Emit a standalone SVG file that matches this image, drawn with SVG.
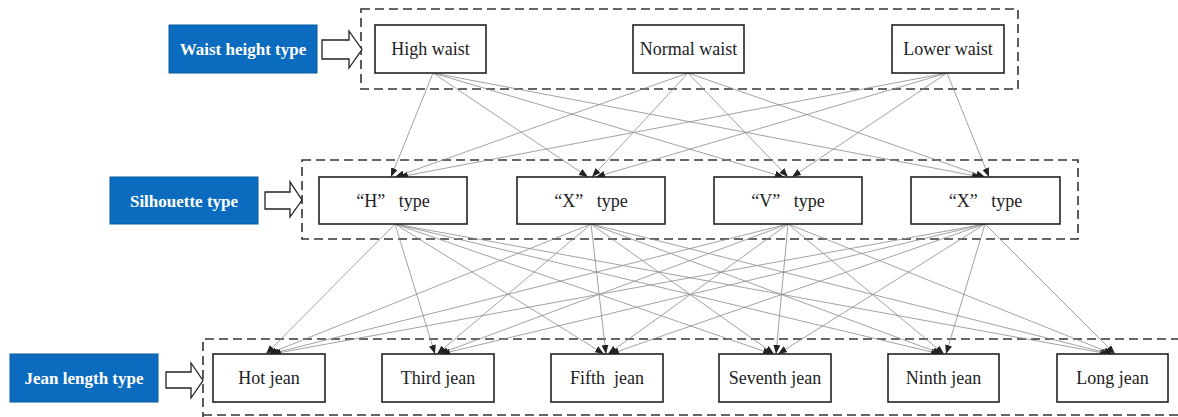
<svg xmlns="http://www.w3.org/2000/svg" width="1178" height="417" viewBox="0 0 1178 417">
<style>
.bg{fill:#fff}
.cat{fill:#0B6BBF;stroke:#0A5A9E;stroke-width:1}
.catt{font-family:'Liberation Serif','Times New Roman','DejaVu Serif',serif;font-weight:bold;font-size:17px;fill:#fff;text-anchor:middle}
.node{fill:#fff;stroke:#222;stroke-width:1.6}
.nt{font-family:'Liberation Serif','Times New Roman','DejaVu Serif',serif;font-size:18px;fill:#222;text-anchor:middle}
.dash{fill:none;stroke:#333;stroke-width:1.6;stroke-dasharray:9 5}
.harrow{fill:#fff;stroke:#222;stroke-width:1.3}
.edge{stroke:#8a8a8a;stroke-width:0.8;fill:none;marker-end:url(#ah)}
</style>
<defs>
<marker id="ah" markerUnits="userSpaceOnUse" markerWidth="9" markerHeight="7" refX="9" refY="3.5" orient="auto">
<path d="M0,0 L9,3.5 L0,7 z" fill="#222"/>
</marker>
</defs>
<rect class="bg" x="0" y="0" width="1178" height="417"/>

<g id="groups">
<rect class="dash" x="361" y="9" width="657" height="80"/>
<rect class="dash" x="302" y="160" width="776" height="79"/>
<path class="dash" d="M1180,339 H203 V417"/>
<path class="dash" d="M203,415 H1180"/>
</g>

<g id="connectors">
<line class="edge" x1="433" y1="73" x2="391" y2="177"/>
<line class="edge" x1="433" y1="73" x2="588" y2="177"/>
<line class="edge" x1="433" y1="73" x2="784" y2="177"/>
<line class="edge" x1="433" y1="73" x2="981" y2="177"/>
<line class="edge" x1="688" y1="73" x2="395" y2="177"/>
<line class="edge" x1="688" y1="73" x2="592" y2="177"/>
<line class="edge" x1="688" y1="73" x2="788" y2="177"/>
<line class="edge" x1="688" y1="73" x2="985" y2="177"/>
<line class="edge" x1="947" y1="73" x2="399" y2="177"/>
<line class="edge" x1="947" y1="73" x2="596" y2="177"/>
<line class="edge" x1="947" y1="73" x2="792" y2="177"/>
<line class="edge" x1="947" y1="73" x2="989" y2="177"/>
<line class="edge" x1="395" y1="224" x2="266" y2="354"/>
<line class="edge" x1="395" y1="224" x2="435" y2="354"/>
<line class="edge" x1="395" y1="224" x2="604" y2="354"/>
<line class="edge" x1="395" y1="224" x2="772" y2="354"/>
<line class="edge" x1="395" y1="224" x2="940" y2="354"/>
<line class="edge" x1="395" y1="224" x2="1109" y2="354"/>
<line class="edge" x1="591" y1="224" x2="268" y2="354"/>
<line class="edge" x1="591" y1="224" x2="437" y2="354"/>
<line class="edge" x1="591" y1="224" x2="606" y2="354"/>
<line class="edge" x1="591" y1="224" x2="774" y2="354"/>
<line class="edge" x1="591" y1="224" x2="942" y2="354"/>
<line class="edge" x1="591" y1="224" x2="1111" y2="354"/>
<line class="edge" x1="788" y1="224" x2="270" y2="354"/>
<line class="edge" x1="788" y1="224" x2="439" y2="354"/>
<line class="edge" x1="788" y1="224" x2="608" y2="354"/>
<line class="edge" x1="788" y1="224" x2="776" y2="354"/>
<line class="edge" x1="788" y1="224" x2="944" y2="354"/>
<line class="edge" x1="788" y1="224" x2="1113" y2="354"/>
<line class="edge" x1="985" y1="224" x2="272" y2="354"/>
<line class="edge" x1="985" y1="224" x2="441" y2="354"/>
<line class="edge" x1="985" y1="224" x2="610" y2="354"/>
<line class="edge" x1="985" y1="224" x2="778" y2="354"/>
<line class="edge" x1="985" y1="224" x2="946" y2="354"/>
<line class="edge" x1="985" y1="224" x2="1115" y2="354"/>
</g>

<g id="cat-waist">
<rect class="cat" x="169" y="25" width="148" height="48"/>
<text class="catt" x="243" y="55">Waist height type</text>
<polygon class="harrow" points="322,40 349,40 349,31 362,49.5 349,68 349,59 322,59"/>
</g>
<g id="cat-silhouette">
<rect class="cat" x="110" y="177" width="148" height="47"/>
<text class="catt" x="184" y="206.5">Silhouette type</text>
<polygon class="harrow" points="265,192 290,192 290,182 302,200 290,217 290,209 265,209"/>
</g>
<g id="cat-jean">
<rect class="cat" x="10" y="354" width="148" height="48"/>
<text class="catt" x="84" y="384">Jean length type</text>
<polygon class="harrow" points="166,372 191,372 191,363 203,380.5 191,398 191,388 166,388"/>
</g>

<g id="w-high"><rect class="node" x="375" y="25" width="111" height="48"/><text class="nt" x="430.5" y="55">High waist</text></g>
<g id="w-normal"><rect class="node" x="633" y="25" width="111" height="48"/><text class="nt" x="688.5" y="55">Normal waist</text></g>
<g id="w-lower"><rect class="node" x="892" y="25" width="112" height="48"/><text class="nt" x="948" y="55">Lower waist</text></g>

<g id="s-h"><rect class="node" x="319" y="177" width="148" height="47"/><text class="nt" x="393" y="207" xml:space="preserve">“H”   type</text></g>
<g id="s-x1"><rect class="node" x="517" y="177" width="148" height="47"/><text class="nt" x="591" y="207" xml:space="preserve">“X”   type</text></g>
<g id="s-v"><rect class="node" x="714" y="177" width="148" height="47"/><text class="nt" x="788" y="207" xml:space="preserve">“V”   type</text></g>
<g id="s-x2"><rect class="node" x="911" y="177" width="149" height="47"/><text class="nt" x="985.5" y="207" xml:space="preserve">“X”   type</text></g>

<g id="j-hot"><rect class="node" x="213" y="354" width="112" height="48"/><text class="nt" x="269" y="384">Hot jean</text></g>
<g id="j-third"><rect class="node" x="382" y="354" width="112" height="48"/><text class="nt" x="438" y="384">Third jean</text></g>
<g id="j-fifth"><rect class="node" x="551" y="354" width="112" height="48"/><text class="nt" x="607" y="384" xml:space="preserve">Fifth  jean</text></g>
<g id="j-seventh"><rect class="node" x="719" y="354" width="112" height="48"/><text class="nt" x="775" y="384">Seventh jean</text></g>
<g id="j-ninth"><rect class="node" x="888" y="354" width="111" height="48"/><text class="nt" x="943.5" y="384">Ninth jean</text></g>
<g id="j-long"><rect class="node" x="1057" y="354" width="111" height="48"/><text class="nt" x="1112.5" y="384">Long jean</text></g>
</svg>
